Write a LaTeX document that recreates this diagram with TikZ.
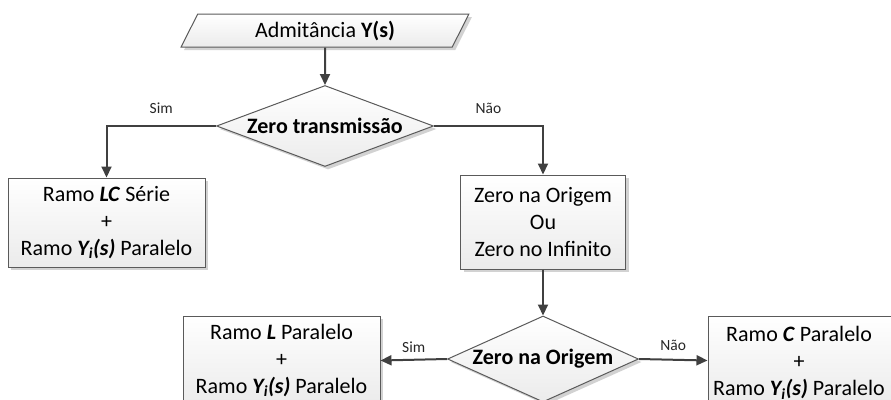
\documentclass[tikz,border=0pt]{standalone}
\usepackage{fontspec}
\setmainfont{Carlito}
\usetikzlibrary{shapes.geometric,arrows.meta,shadows}

\definecolor{linegray}{HTML}{404040}
\definecolor{edgegray}{HTML}{5A5A5A}
\definecolor{boxshade}{HTML}{EBEBEB}
\definecolor{shadowgray}{HTML}{D2D2D2}

\newcommand{\bi}[1]{\textbf{\textit{#1}}}

\tikzset{
  flowbox/.style={
    draw=edgegray, line width=1pt,
    top color=white, bottom color=boxshade,
    drop shadow={shadow xshift=3pt, shadow yshift=-3pt, fill=shadowgray, opacity=1},
    font=\fontsize{22}{27}\selectfont, text=black,
    align=center, inner sep=0pt},
  procbox/.style={flowbox, rectangle,
    execute at begin node={\rule{0pt}{22pt}}},
  decision/.style={flowbox, diamond, aspect=2.6,
    font=\fontsize{22}{27}\selectfont\bfseries},
  inputbox/.style={flowbox, trapezium, trapezium left angle=65,
    trapezium right angle=115, trapezium stretches=true},
  conn/.style={draw=linegray, line width=2pt,
    -{Triangle[length=11pt,width=10pt]}},
  lbl/.style={font=\fontsize{15.5}{18}\selectfont, text=black!85,
    anchor=base, inner sep=0pt}
}

\begin{document}
\begin{tikzpicture}[x=1pt, y=-1pt]
  \clip (0,0) rectangle (891,399);

  % input
  \node[inputbox, minimum width=288pt, minimum height=33pt] (adm) at (325,30.5)
    {Admitância \textbf{Y(s)}};

  % first decision
  \node[decision, minimum width=217pt, minimum height=81pt] (zt) at (325,126)
    {Zero transmissão};

  % branches of the first decision
  \node[procbox, minimum width=197pt, minimum height=89pt] (lc) at (106.5,222.5)
    {Ramo \bi{LC} Série\\+\\Ramo \bi{Y\textsubscript{i}(s)} Paralelo};
  \node[procbox, minimum width=165pt, minimum height=94pt] (zo) at (543,222)
    {Zero na Origem\\Ou\\Zero no Infinito};

  % second decision
  \node[decision, minimum width=191pt, minimum height=86pt] (zn) at (543,359)
    {Zero na Origem};

  % branches of the second decision
  \node[procbox, minimum width=197pt, minimum height=89pt] (lp) at (281.5,360.5)
    {Ramo \bi{L} Paralelo\\+\\Ramo \bi{Y\textsubscript{i}(s)} Paralelo};
  \node[procbox, minimum width=197pt, minimum height=89pt] (cp) at (806.5,360.5)
    {\begin{tabular}{@{}c@{\hspace{15pt}}}
      \rule{0pt}{25pt}Ramo \bi{C} Paralelo\\+\\Ramo \bi{Y\textsubscript{i}(s)} Paralelo
     \end{tabular}};

  % connectors
  \draw[conn] (adm.south) -- (zt.north);
  \draw[conn] (zt.west) -| node[lbl, pos=.25, yshift=13pt] {Sim} (lc.north);
  \draw[conn] (zt.east) -| node[lbl, pos=.25, yshift=13pt] {Não} (zo.north);
  \draw[conn] (zo.south) -- (zn.north);
  \draw[conn] (zn.west) -- node[lbl, yshift=7pt] {Sim} (lp.east);
  \draw[conn] (zn.east) -- node[lbl, yshift=9pt] {Não} (cp.west);
\end{tikzpicture}
\end{document}
